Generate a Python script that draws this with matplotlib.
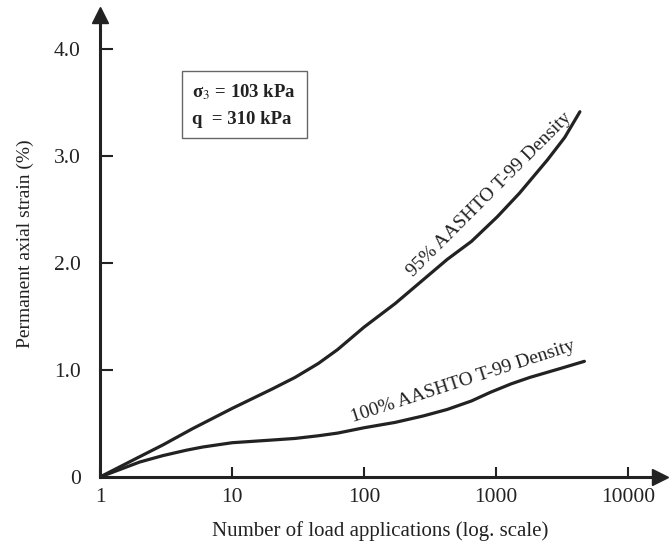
import matplotlib
matplotlib.use("Agg")
import matplotlib.pyplot as plt

# values (x = load applications, y = strain %)
n_95 = [1, 2, 3, 5, 10, 20, 30, 45, 63, 100, 172, 250, 424, 650, 1020, 1500, 2440, 3300, 4300]
strain_95 = [0, 0.19, 0.30, 0.45, 0.64, 0.82, 0.93, 1.06, 1.19, 1.40, 1.62, 1.79, 2.03,
             2.20, 2.43, 2.65, 2.96, 3.17, 3.41]
n_100 = [1, 2, 3, 4.5, 6, 10, 20, 30, 45, 63, 100, 172, 280, 424, 650, 900, 1300, 1800, 3000, 4650]
strain_100 = [0, 0.14, 0.20, 0.25, 0.28, 0.32, 0.345, 0.36, 0.385, 0.41, 0.46, 0.51, 0.57,
              0.63, 0.71, 0.79, 0.87, 0.93, 1.01, 1.08]

x_ticks = [1, 10, 100, 1000, 10000]
x_labels = ["1", "10", "100", "1000", "10000"]
y_ticks = [0, 1, 2, 3, 4]
y_labels = ["0", "1.0", "2.0", "3.0", "4.0"]

plt.rcParams['font.family'] = ['Liberation Serif', 'DejaVu Serif']
plt.rcParams['mathtext.fontset'] = 'stix'

ink = "#222222"
fig = plt.figure(figsize=(6.7, 5.54), dpi=100)
ax = fig.add_axes([100 / 670, 77 / 554, 560 / 670, 467 / 554])

ax.plot(n_95, strain_95, color=ink, lw=2.3, solid_capstyle='round', solid_joinstyle='round')
ax.plot(n_100, strain_100, color=ink, lw=2.3, solid_capstyle='round', solid_joinstyle='round')

ax.set_xscale('log')
ax.set_xlim(1, 10 ** 4.24)
ax.set_ylim(0, 4.36)
ax.set_xticks(x_ticks)
ax.set_xticklabels(x_labels)
ax.set_yticks(y_ticks)
ax.set_yticklabels(y_labels)
ax.minorticks_off()
ax.tick_params(axis='both', direction='in', colors=ink, labelsize=15.5, width=1.5)
ax.tick_params(axis='y', length=9, pad=14)
ax.tick_params(axis='x', length=7, pad=8)

for side in ['top', 'right']:
    ax.spines[side].set_visible(False)
for side in ['left', 'bottom']:
    ax.spines[side].set_linewidth(2.2)
    ax.spines[side].set_color(ink)

# arrow heads on the axes
ax.plot(1, 0, ">", color=ink, ms=11, transform=ax.transAxes, clip_on=False)
ax.plot(0, 0.99, "^", color=ink, ms=11, transform=ax.transAxes, clip_on=False)

ax.set_xlabel("Number of load applications (log. scale)", fontsize=15, color=ink, labelpad=10)
ax.set_ylabel("Permanent axial strain (%)", fontsize=14, color=ink, labelpad=14)

ax.text(890, 2.64, "95% AASHTO T-99 Density", rotation=45, rotation_mode='anchor',
        ha='center', va='center', fontsize=14, color=ink)
ax.text(560, 0.89, "100% AASHTO T-99 Density", rotation=18, rotation_mode='anchor',
        ha='center', va='center', fontsize=14, color=ink)

ax.text(0.165, 0.797, "σ$_3$ = 103 kPa\nq  = 310 kPa", transform=ax.transAxes,
        ha='left', va='center', fontsize=13.5, fontweight='bold', color=ink, linespacing=1.7,
        bbox=dict(boxstyle='square,pad=0.55', fc='white', ec='#666666', lw=1))

fig.savefig("out.png", dpi=100)
